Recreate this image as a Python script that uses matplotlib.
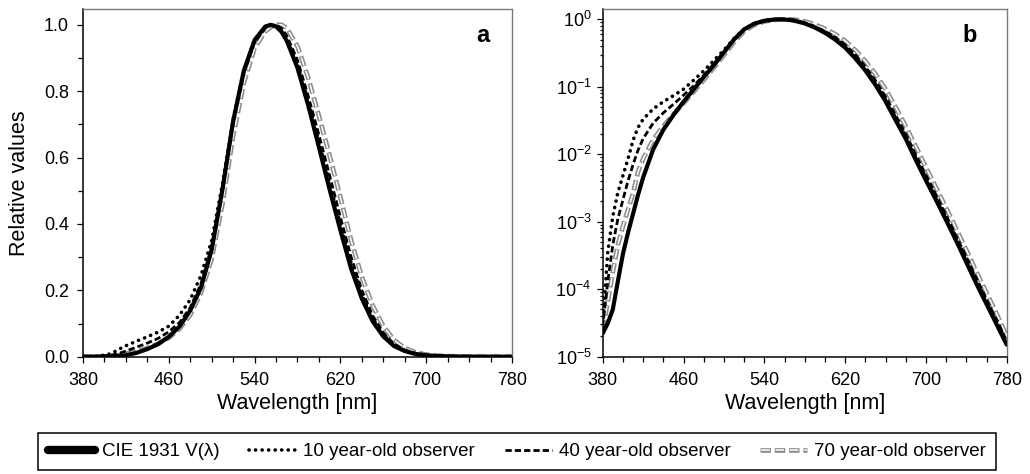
import numpy as np
import matplotlib
matplotlib.use('Agg')
from matplotlib import pyplot as plt
from matplotlib.lines import Line2D
from matplotlib.legend_handler import HandlerTuple
from matplotlib.ticker import MultipleLocator, LogLocator, NullFormatter, FormatStrFormatter

plt.rcParams['font.family'] = ['Liberation Sans', 'DejaVu Sans']
plt.rcParams['mathtext.fontset'] = 'custom'
plt.rcParams['mathtext.rm'] = 'Liberation Sans'
plt.rcParams['lines.scale_dashes'] = False

# wavelength grid [nm] and relative values
wl = [380, 385, 390, 395, 400, 405, 410, 415, 420, 430, 440, 450, 460, 470,
      480, 490, 500, 510, 520, 530, 540, 550, 555, 560, 565, 570, 580, 590,
      600, 610, 620, 630, 640, 650, 660, 670, 680, 690, 700, 710, 720, 730,
      740, 750, 760, 770, 780]

v_cie = [2.2e-5, 3.1e-5, 5.0e-5, 1.3e-4, 3.3e-4, 6.8e-4, 1.3e-3, 2.5e-3, 4.5e-3,
         0.0118, 0.023, 0.038, 0.060, 0.091, 0.139, 0.208, 0.323, 0.503, 0.710,
         0.862, 0.954, 0.995, 1.000, 0.995, 0.979, 0.952, 0.870, 0.757, 0.631,
         0.503, 0.381, 0.265, 0.175, 0.107, 0.061, 0.032, 0.017, 0.0082, 0.0041,
         0.0021, 0.00105, 0.00052, 0.00025, 0.00012, 6.0e-5, 3.0e-5, 1.5e-5]

v_10 = [3.0e-5, 3.5e-4, 1.2e-3, 2.7e-3, 4.8e-3, 8.5e-3, 0.016, 0.025, 0.033,
        0.047, 0.060, 0.074, 0.092, 0.125, 0.172, 0.245, 0.350, 0.520, 0.715,
        0.865, 0.955, 0.995, 1.000, 0.996, 0.982, 0.958, 0.880, 0.770, 0.648,
        0.522, 0.400, 0.282, 0.187, 0.115, 0.066, 0.035, 0.0185, 0.0090, 0.0045,
        0.0023, 0.00115, 0.00057, 0.00028, 0.000135, 6.6e-5, 3.3e-5, 1.6e-5]

v_40 = [2.8e-5, 1.3e-4, 4.5e-4, 1.1e-3, 2.1e-3, 4.0e-3, 7.0e-3, 0.0115, 0.017,
        0.029, 0.041, 0.055, 0.075, 0.103, 0.148, 0.220, 0.330, 0.505, 0.705,
        0.855, 0.948, 0.990, 0.998, 1.000, 0.990, 0.967, 0.893, 0.785, 0.668,
        0.545, 0.420, 0.300, 0.200, 0.124, 0.072, 0.038, 0.020, 0.0098, 0.0049,
        0.0025, 0.00124, 0.00061, 0.00030, 0.000145, 7.0e-5, 3.5e-5, 1.7e-5]

v_70 = [2.5e-5, 6.5e-5, 1.8e-4, 4.5e-4, 8.5e-4, 1.5e-3, 2.6e-3, 5.5e-3, 8.5e-3,
        0.0165, 0.026, 0.039, 0.057, 0.084, 0.126, 0.192, 0.295, 0.460, 0.665,
        0.825, 0.930, 0.980, 0.993, 1.000, 1.000, 0.990, 0.935, 0.840, 0.725,
        0.605, 0.480, 0.350, 0.240, 0.155, 0.092, 0.050, 0.026, 0.013, 0.0064,
        0.0032, 0.0016, 0.00078, 0.00038, 0.00018, 8.8e-5, 4.3e-5, 2.0e-5]

labels = ['CIE 1931 V(\u03bb)', '10 year-old observer',
          '40 year-old observer', '70 year-old observer']
xticks = [380, 460, 540, 620, 700, 780]

GRAY = '#8c8c8c'
STY_CIE = dict(color='black', lw=3.0, solid_capstyle='round')
STY_10 = dict(color='black', lw=2.6, ls=(0, (0.1, 4.6)), dash_capstyle='round')
STY_40 = dict(color='black', lw=2.0, ls=(0, (4.5, 2.2)))
STY_70o = dict(color=GRAY, lw=3.4, ls=(0, (7.5, 2.8)))
STY_70i = dict(color='white', lw=1.1, ls=(9.4, (6.1, 4.2)))


def draw(ax):
    ax.plot(wl, v_70, **STY_70o)
    ax.plot(wl, v_70, **STY_70i)
    ax.plot(wl, v_40, **STY_40)
    ax.plot(wl, v_10, **STY_10)
    ax.plot(wl, v_cie, **STY_CIE)
    ax.set_xlim(380, 780)
    ax.set_xticks(xticks)
    ax.xaxis.set_minor_locator(MultipleLocator(20))
    ax.set_xlabel('Wavelength [nm]', fontsize=15.5, labelpad=3)
    for s in ['left', 'bottom']:
        ax.spines[s].set_color('black')
        ax.spines[s].set_linewidth(1.1)
    for s in ['top', 'right']:
        ax.spines[s].set_color('#7a7a7a')
        ax.spines[s].set_linewidth(1.0)
    ax.tick_params(which='both', direction='out', labelsize=13, width=0.9)
    ax.tick_params(which='major', length=4)
    ax.tick_params(which='minor', length=3.5)
    ax.tick_params(axis='x', which='major', pad=7)
    ax.tick_params(axis='y', which='major', pad=6)


fig = plt.figure(figsize=(10.30, 4.74), dpi=100)
ax1 = fig.add_axes([83/1030, 1-356.7/474, 429/1030, 347.5/474])
ax2 = fig.add_axes([602.7/1030, 1-356.5/474, 404/1030, 347/474])

draw(ax1)
ax1.set_ylim(0, 1.047)
ax1.yaxis.set_major_locator(MultipleLocator(0.2))
ax1.yaxis.set_minor_locator(MultipleLocator(0.1))
ax1.yaxis.set_major_formatter(FormatStrFormatter('%.1f'))
ax1.set_ylabel('Relative values', fontsize=15.5, labelpad=10)
ax1.text(0.932, 0.925, 'a', transform=ax1.transAxes, fontsize=17,
         fontweight='bold', ha='center', va='center')

draw(ax2)
ax2.set_yscale('log')
ax2.set_ylim(1e-5, 1.4)
ax2.yaxis.set_major_locator(LogLocator(base=10, numticks=10))
ax2.yaxis.set_minor_locator(LogLocator(base=10, subs=np.arange(2, 10), numticks=20))
ax2.yaxis.set_minor_formatter(NullFormatter())
ax2.tick_params(axis='y', which='minor', length=2.5)
ax2.tick_params(axis='y', which='major', pad=4)
ax2.text(0.908, 0.925, 'b', transform=ax2.transAxes, fontsize=17,
         fontweight='bold', ha='center', va='center')

# legend with proxy handles
h_cie = Line2D([], [], color='black', lw=6, solid_capstyle='round')
h_10 = Line2D([], [], **STY_10)
h_40 = Line2D([], [], **STY_40)
h_70 = (Line2D([], [], **STY_70o), Line2D([], [], **STY_70i))
leg = fig.legend([h_cie, h_10, h_40, h_70], labels,
                 handler_map={tuple: HandlerTuple(ndivide=1)},
                 loc='center', ncol=4, bbox_to_anchor=(517/1030, 1-451.5/474),
                 fontsize=13.5, handlelength=2.5, handletextpad=0.37,
                 columnspacing=1.6, borderpad=0.55, borderaxespad=0,
                 fancybox=False, edgecolor='black', framealpha=1)
leg.get_frame().set_linewidth(1.1)

fig.savefig('out.png', dpi=100)
